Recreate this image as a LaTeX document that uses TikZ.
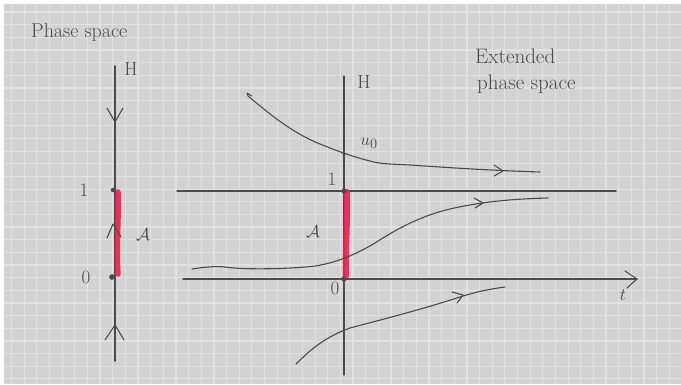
\documentclass[tikz,border=0pt]{standalone}
\usepackage{fontspec}
\usetikzlibrary{arrows.meta}
\definecolor{bg}{RGB}{210,210,210}
\definecolor{gridc}{RGB}{225,225,225}
\definecolor{inkc}{RGB}{75,75,75}
\definecolor{hl}{RGB}{238,32,78}
\tikzset{
  ink/.style={draw=inkc, line width=1.1pt, line cap=round, line join=round},
  axis/.style={draw=inkc, line width=1.4pt, line cap=round},
  marker/.style={draw=hl, line width=5.5pt, line cap=round, opacity=0.9},
  lbl/.style={inner sep=0pt, text=inkc, font=\fontsize{19}{21}\selectfont},
  title/.style={inner sep=0pt, text=inkc, anchor=west, font=\fontsize{20}{22}\selectfont},
}
\begin{document}
\begin{tikzpicture}[x=1pt,y=-1pt]
\useasboundingbox (0,0) rectangle (681,384);
\fill[white] (0,0) rectangle (681,384);
\fill[bg] (4,4) rectangle (681,384);
\begin{scope}
\clip (4,4) rectangle (681,384);
\foreach \i in {0,...,53} \draw[gridc, line width=1.2pt] ({11.5+12.65*\i},4) -- ++(0,380);
\foreach \i in {0,...,30} \draw[gridc, line width=1.2pt] (4,{12+12.65*\i}) -- ++(677,0);
\end{scope}

% ---------- left: phase space ----------
\node[title] (ps) at (31,33) {Phase space};
\coordinate (lt) at (115,66);
\coordinate (lb) at (115,361);
\draw[axis] (lt) -- (lb);
\node[lbl] (lH) at (131,69) {H};
\draw[marker] (118,192) .. controls (119,215) and (116,250) .. (118,274);
\draw[ink] (107,108) -- (115,122) -- (123,108);
\draw[ink] (105,340) -- (115,325) -- (124,340);
\draw[ink] (107,238) -- (113,224) -- (121,237);
\node[circle, fill=inkc, inner sep=1.6pt] (l1) at (113,190) {};
\node[circle, fill=inkc, inner sep=2pt] (l0) at (112,277) {};
\node[lbl] (lone) at (84,190) {1};
\node[lbl] (lzero) at (86,277) {0};
\node[lbl] (lA) at (143,235) {$\mathcal{A}$};

% ---------- right: extended phase space ----------
\node[title, font=\fontsize{21}{23}\selectfont] (eps1) at (475,56) {Extended};
\node[title, font=\fontsize{21}{23}\selectfont] (eps2) at (477,84) {phase space};
\coordinate (rt) at (344,76);
\coordinate (rb) at (344,375);
\draw[axis] (rt) -- (rb);
\node[lbl] (rH) at (364,82) {H};
\coordinate (h1a) at (177,191);
\coordinate (h1b) at (616,191);
\draw[axis] (h1a) -- (h1b);
\coordinate (ta) at (183,279);
\coordinate (tb) at (637,279);
\draw[axis] (ta) -- (tb);
\draw[ink] (625,271) -- (637,279) -- (627,288);
\node[lbl] (tl) at (623,295) {$t$};
\draw[marker, line width=6pt] (347,192) .. controls (348,220) and (345,250) .. (346,276);
\node[circle, fill=inkc, inner sep=1.8pt] (r1) at (344,191) {};
\node[circle, fill=inkc, inner sep=1.8pt] (r0) at (344,279) {};
\node[lbl] (rone) at (332,179) {1};
\node[lbl] (rzero) at (335,288) {0};
\node[lbl] (rA) at (313,232) {$\mathcal{A}$};
\node[lbl] (u0) at (369,143) {$u_0$};

% top curve
\draw[ink] (252,96) -- (247,93) -- (248,96)
  .. controls (265,110) and (290,132) .. (320,144)
  .. controls (335,150) and (350,156) .. (370,161)
  .. controls (380,164) and (390,164) .. (410,165)
  .. controls (440,167) and (480,170) .. (540,172);
\node[circle, fill=inkc, inner sep=1.2pt] (ud) at (344,154) {};
\draw[ink] (494,165) -- (503,171) -- (494,176);
% middle curve
\draw[ink] (192,269) .. controls (205,267) and (215,266) .. (225,267)
  .. controls (245,270) and (290,269) .. (315,266)
  .. controls (335,263) and (355,255) .. (375,243)
  .. controls (395,230) and (420,216) .. (450,209)
  .. controls (480,202) and (510,199) .. (548,198);
\draw[ink] (474,198) -- (483,203) -- (475,208);
% bottom curve
\draw[ink] (296,364) .. controls (310,350) and (325,337) .. (350,328)
  .. controls (380,320) and (420,310) .. (460,297)
  .. controls (475,292) and (490,289) .. (505,287);
\draw[ink] (452,292) -- (463,295) -- (457,303);
\end{tikzpicture}
\end{document}
